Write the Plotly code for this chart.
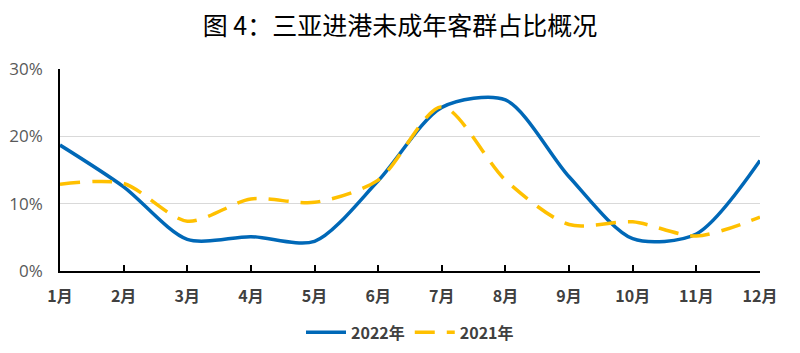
import plotly.graph_objects as go

months = ["1月", "2月", "3月", "4月", "5月", "6月", "7月", "8月", "9月", "10月", "11月", "12月"]
y2022 = [18.7, 12.5, 4.7, 5.1, 4.4, 13.4, 24.3, 25.4, 14.0, 4.8, 5.5, 16.4]
y2021 = [12.9, 13.0, 7.4, 10.7, 10.2, 13.5, 24.4, 13.5, 6.9, 7.3, 5.2, 8.0]
yticks = [0, 10, 20, 30]
yticklabels = ["0%", "10%", "20%", "30%"]

fig = go.Figure()
fig.add_trace(go.Scatter(
    x=months, y=y2022, name="2022年", mode="lines",
    line=dict(color="#0068B7", width=3.5, shape="spline", smoothing=0.8),
))
fig.add_trace(go.Scatter(
    x=months, y=y2021, name="2021年", mode="lines",
    line=dict(color="#FFC000", width=3.5, shape="spline", smoothing=0.8, dash="20px,12px"),
))

fig.update_layout(
    width=800, height=353,
    margin=dict(l=60, r=40, t=69, b=82, autoexpand=False),
    paper_bgcolor="white", plot_bgcolor="white",
    title=dict(text="图 4：三亚进港未成年客群占比概况", x=0.5, xanchor="center",
               y=0.925, yanchor="middle",
               font=dict(family="Noto Sans CJK SC", size=25, color="black")),
    xaxis=dict(
        type="category", range=[0, 11], showgrid=False, automargin=False,
        showline=True, linecolor="black", linewidth=1.5,
        ticks="inside", ticklen=6, tickcolor="black", tickwidth=1.5,
        ticklabelstandoff=10,
        tickfont=dict(family="Noto Sans CJK SC", size=16, color="#404040", weight="bold"),
        fixedrange=True,
    ),
    yaxis=dict(
        range=[0, 30], tickvals=yticks, ticktext=yticklabels, automargin=False,
        showgrid=True, gridcolor="#D9D9D9", gridwidth=1,
        showline=True, linecolor="black", linewidth=1.5,
        ticks="", zeroline=False, ticklabelstandoff=12,
        tickfont=dict(family="Open Sans", size=17, color="#595959"),
        fixedrange=True,
    ),
    legend=dict(orientation="h", x=0.5, xanchor="center", y=-0.22, yanchor="top",
                font=dict(family="Noto Sans CJK SC", size=16, color="#404040", weight="bold"),
                itemwidth=40),
    showlegend=True,
)

fig.write_html("out.html")
